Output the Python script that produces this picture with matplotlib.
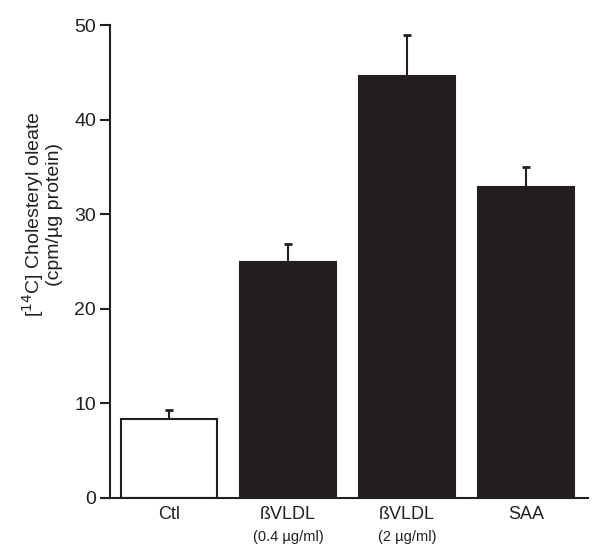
import numpy as np
import matplotlib.pyplot as plt
from matplotlib.transforms import blended_transform_factory

plt.rcParams['font.family'] = ['Liberation Sans', 'DejaVu Sans']

groups = ["Ctl", "ßVLDL", "ßVLDL", "SAA"]
subs = ["", "(0.4 µg/ml)", "(2 µg/ml)", ""]
means = [8.3, 24.9, 44.6, 32.9]
errs = [1.0, 2.0, 4.4, 2.1]
colors = ["white", "#231f20", "#231f20", "#231f20"]

fig = plt.figure(figsize=(6, 5.57), dpi=100)
ax = fig.add_axes([0.183, 0.106, 0.797, 0.849])

x = np.arange(len(groups))
ax.bar(x, means, width=0.81, color=colors, edgecolor="#231f20", linewidth=1.5, zorder=2)
ax.errorbar(x, means, yerr=[np.zeros(len(errs)), errs], fmt="none",
            ecolor="#231f20", elinewidth=1.5, capsize=3, capthick=2, zorder=1)

ax.set_xlim(-0.5, 3.52)
ax.set_ylim(0, 50)
ax.set_yticks([0, 10, 20, 30, 40, 50])
ax.tick_params(axis="y", direction="out", length=7, width=1.5, labelsize=14, pad=3, colors="#231f20")
ax.set_xticks(x)
ax.set_xticklabels(groups, fontsize=13)
ax.tick_params(axis="x", length=0, pad=6, colors="#231f20")
for s in ["top", "right"]:
    ax.spines[s].set_visible(False)
for s in ["left", "bottom"]:
    ax.spines[s].set_linewidth(1.5)
    ax.spines[s].set_color("#231f20")

trans = blended_transform_factory(ax.transData, ax.transAxes)
for i, s in enumerate(subs):
    if s:
        ax.text(i, -0.067, s, transform=trans, ha="center", va="top", fontsize=10.5, color="#231f20")

ax.set_ylabel("[$^{14}$C] Cholesteryl oleate\n(cpm/µg protein)", fontsize=14,
              color="#231f20", linespacing=1.0)
ax.yaxis.set_label_coords(-0.097, 0.6)

fig.savefig("out.png", dpi=100)
